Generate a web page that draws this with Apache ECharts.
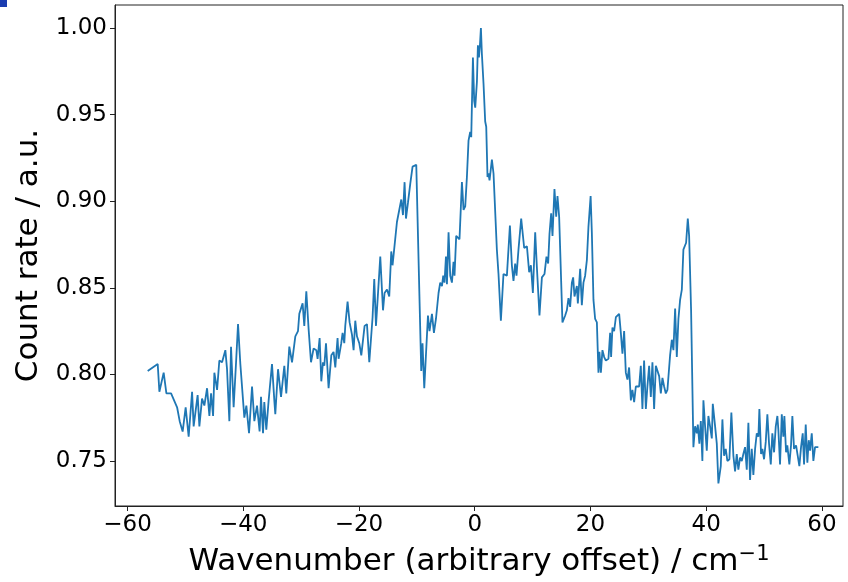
<!DOCTYPE html>
<html>
<head>
<meta charset="utf-8">
<script src="https://cdn.jsdelivr.net/npm/echarts@6/dist/echarts.min.js"></script>
<style>
html,body{margin:0;padding:0;background:#fff;}
#chart{width:848px;height:582px;}
</style>
</head>
<body>
<div id="chart"></div>
<script>
// Wavenumber (arbitrary offset) / cm^-1
const wavenumber = [
-56.51,-54.78,-54.49,-53.75,-53.28,-52.47,-51.43,-50.98,-50.47,-49.95,-49.43,-48.84,-48.57,-47.88,-47.58,-47.12,-46.72,-46.25,-45.85,-45.56,
-45.21,-44.99,-44.52,-44.13,-43.66,-43.09,-42.80,-42.40,-42.11,-41.66,-41.24,-40.90,-40.50,-39.81,-39.46,-39.00,-38.48,-38.08,-37.62,-37.17,
-36.93,-36.58,-36.36,-36.01,-35.61,-35.03,-34.63,-34.46,-33.99,-33.47,-32.90,-32.56,-32.04,-31.57,-31.00,-30.54,-30.31,-29.74,-29.45,-29.10,
-28.70,-28.29,-27.84,-27.37,-27.15,-26.80,-26.51,-26.22,-25.99,-25.70,-25.25,-24.78,-24.39,-24.09,-23.70,-23.52,-23.06,-22.83,-22.54,-22.37,
-21.97,-21.62,-21.21,-20.93,-20.64,-20.35,-19.95,-19.60,-19.03,-18.62,-18.22,-17.65,-17.36,-17.06,-16.32,-15.85,-15.58,-15.16,-14.77,-14.42,
-14.20,-13.44,-13.16,-12.69,-12.40,-12.12,-11.88,-11.54,-11.14,-10.74,-10.10,-9.24,-9.02,-8.72,-8.08,-7.81,-7.39,-7.05,-6.70,-6.25,
-5.96,-5.66,-5.44,-5.22,-4.97,-4.80,-4.52,-4.23,-3.94,-3.66,-3.49,-3.20,-2.90,-2.63,-2.21,-1.93,-1.64,-1.35,-1.07,-0.78,
-0.60,-0.31,-0.09,0.09,0.38,0.55,0.73,0.90,1.07,1.24,1.52,1.81,1.99,2.21,2.38,2.56,2.80,2.97,3.25,3.42,
3.83,4.11,4.52,4.97,5.27,5.56,6.08,6.42,6.70,6.99,7.22,7.56,8.03,8.26,8.55,9.02,9.41,9.71,10.05,10.45,
10.74,11.19,11.61,12.06,12.40,12.69,12.92,13.21,13.44,13.78,14.08,14.30,14.59,15.16,15.63,15.92,16.20,16.49,16.79,17.01,
17.24,17.65,17.82,18.22,18.51,18.79,19.08,19.38,19.65,20.03,20.24,20.52,20.81,21.11,21.38,21.55,21.80,22.07,22.37,22.66,
23.11,23.40,23.57,23.80,24.09,24.39,24.66,24.96,25.25,25.53,25.82,26.11,26.39,26.68,26.98,27.25,27.55,27.84,28.12,28.41,
28.70,28.98,29.27,29.57,29.84,30.14,30.43,30.71,31.00,31.30,31.57,31.87,32.16,32.44,32.73,33.02,33.30,33.76,34.06,34.34,
34.63,34.92,35.20,35.49,35.79,36.06,36.36,36.53,36.82,37.05,37.39,37.79,38.08,38.38,38.55,38.82,39.07,39.34,39.52,39.81,
40.10,40.38,40.67,40.97,41.14,41.54,41.83,42.11,42.52,42.80,43.09,43.38,43.66,44.01,44.35,44.70,44.99,45.28,45.56,45.85,
46.15,46.42,46.72,47.01,47.29,47.58,47.87,48.15,48.45,48.74,49.02,49.19,49.48,49.71,50.00,50.29,50.57,50.86,51.16,51.43,
51.73,52.02,52.30,52.47,52.76,53.06,53.33,53.51,53.80,54.02,54.37,54.66,54.89,55.18,55.53,55.82,56.10,56.39,56.68,56.91,
57.20,57.48,57.72,57.95,58.24,58.52,58.81,59.10,59.38
];
// Count rate / a.u.
const countRate = [
0.802,0.806,0.790,0.801,0.789,0.789,0.781,0.773,0.767,0.781,0.764,0.790,0.770,0.788,0.770,0.786,0.782,0.792,0.776,0.789,
0.776,0.801,0.791,0.808,0.807,0.814,0.803,0.773,0.816,0.781,0.807,0.829,0.806,0.775,0.782,0.766,0.793,0.773,0.782,0.767,
0.787,0.766,0.784,0.768,0.785,0.806,0.785,0.777,0.803,0.787,0.805,0.789,0.816,0.807,0.822,0.825,0.835,0.841,0.828,0.848,
0.826,0.807,0.815,0.814,0.809,0.821,0.796,0.807,0.805,0.818,0.792,0.811,0.813,0.804,0.821,0.809,0.818,0.824,0.818,0.828,
0.842,0.830,0.823,0.814,0.831,0.822,0.818,0.811,0.828,0.829,0.807,0.833,0.855,0.828,0.868,0.837,0.847,0.849,0.845,0.871,
0.863,0.888,0.889,0.901,0.892,0.911,0.890,0.899,0.910,0.920,0.921,0.802,0.818,0.792,0.834,0.825,0.835,0.824,0.832,0.847,
0.853,0.851,0.857,0.853,0.868,0.852,0.882,0.857,0.853,0.865,0.857,0.880,0.879,0.878,0.911,0.895,0.897,0.914,0.935,0.940,
0.937,0.983,0.958,0.954,0.969,0.990,0.983,0.990,1.000,0.985,0.968,0.946,0.943,0.914,0.916,0.912,0.913,0.924,0.916,0.915,
0.872,0.858,0.831,0.858,0.857,0.857,0.886,0.863,0.854,0.864,0.857,0.872,0.890,0.889,0.873,0.874,0.859,0.863,0.847,0.882,
0.862,0.834,0.856,0.858,0.868,0.864,0.881,0.893,0.880,0.907,0.891,0.903,0.891,0.830,0.834,0.837,0.844,0.839,0.853,0.856,
0.845,0.851,0.841,0.861,0.840,0.853,0.857,0.866,0.885,0.903,0.882,0.843,0.832,0.830,0.801,0.813,0.801,0.814,0.810,0.808,
0.809,0.824,0.810,0.827,0.825,0.833,0.832,0.835,0.824,0.812,0.825,0.801,0.797,0.804,0.785,0.791,0.784,0.793,0.794,0.793,
0.805,0.780,0.808,0.780,0.793,0.805,0.787,0.807,0.780,0.805,0.804,0.799,0.789,0.798,0.793,0.789,0.791,0.811,0.820,0.814,
0.838,0.810,0.832,0.843,0.849,0.872,0.872,0.876,0.890,0.880,0.837,0.758,0.770,0.766,0.771,0.760,0.773,0.750,0.785,0.770,
0.756,0.776,0.770,0.763,0.783,0.770,0.760,0.737,0.747,0.774,0.753,0.757,0.750,0.751,0.778,0.753,0.744,0.754,0.745,0.752,
0.750,0.754,0.758,0.745,0.772,0.739,0.757,0.742,0.757,0.766,0.764,0.780,0.754,0.757,0.751,0.761,0.777,0.760,0.748,0.766,
0.755,0.770,0.776,0.768,0.748,0.777,0.764,0.776,0.755,0.759,0.748,0.759,0.776,0.757,0.759,0.758,0.747,0.758,0.766,0.748,
0.771,0.749,0.762,0.756,0.766,0.750,0.758,0.757,0.758
];
const xTicks = [-60, -40, -20, 0, 20, 40, 60];
const yTicks = [0.75, 0.80, 0.85, 0.90, 0.95, 1.00];

const seriesData = wavenumber.map((x, i) => [x, countRate[i]]);
const FONT = 'DejaVu Sans';
const chart = echarts.init(document.getElementById('chart'), null, {renderer: 'canvas'});
chart.setOption({
  animation: false,
  backgroundColor: '#ffffff',
  grid: {left: 115, right: 5, top: 5, bottom: 76, show: true, borderColor: '#222', borderWidth: 1,
    containLabel: false, outerBoundsMode: 'none'},
  xAxis: {
    type: 'value', min: -62.16, max: 63.64,
    name: 'Wavenumber (arbitrary offset) / cm{sup|\u22121}',
    nameLocation: 'middle', nameGap: 38,
    nameTextStyle: {fontFamily: FONT, fontSize: 31, color: '#000', lineHeight: 36,
      rich: {sup: {fontFamily: FONT, fontSize: 21, color: '#000', lineHeight: 20, verticalAlign: 'top'}}},
    axisLine: {show: true, onZero: false, lineStyle: {color: '#222', width: 1}},
    axisTick: {show: true, inside: false, length: 5, customValues: xTicks, lineStyle: {color: '#222'}},
    axisLabel: {customValues: xTicks, margin: 8, fontFamily: FONT, fontSize: 23, color: '#000',
      formatter: v => v < 0 ? '\u2212' + Math.abs(v) : String(v)},
    splitLine: {show: false}
  },
  yAxis: {
    type: 'value', min: 0.724, max: 1.0133,
    name: 'Count rate / a.u.',
    nameLocation: 'middle', nameGap: 62,
    nameTextStyle: {fontFamily: FONT, fontSize: 31, color: '#000'},
    axisLine: {show: true, onZero: false, lineStyle: {color: '#222', width: 1}},
    axisTick: {show: true, inside: false, length: 5, customValues: yTicks, lineStyle: {color: '#222'}},
    axisLabel: {customValues: yTicks, margin: 8, fontFamily: FONT, fontSize: 23, color: '#000',
      formatter: v => v.toFixed(2)},
    splitLine: {show: false}
  },
  graphic: [
    {type: 'rect', left: 0, top: 0, shape: {width: 7, height: 7}, style: {fill: '#1a3cb0'}, silent: true}
  ],
  series: [{
    type: 'line', data: seriesData, showSymbol: false, symbol: 'none',
    lineStyle: {color: '#1f77b4', width: 1.8}, clip: true
  }]
});
</script>
</body>
</html>
